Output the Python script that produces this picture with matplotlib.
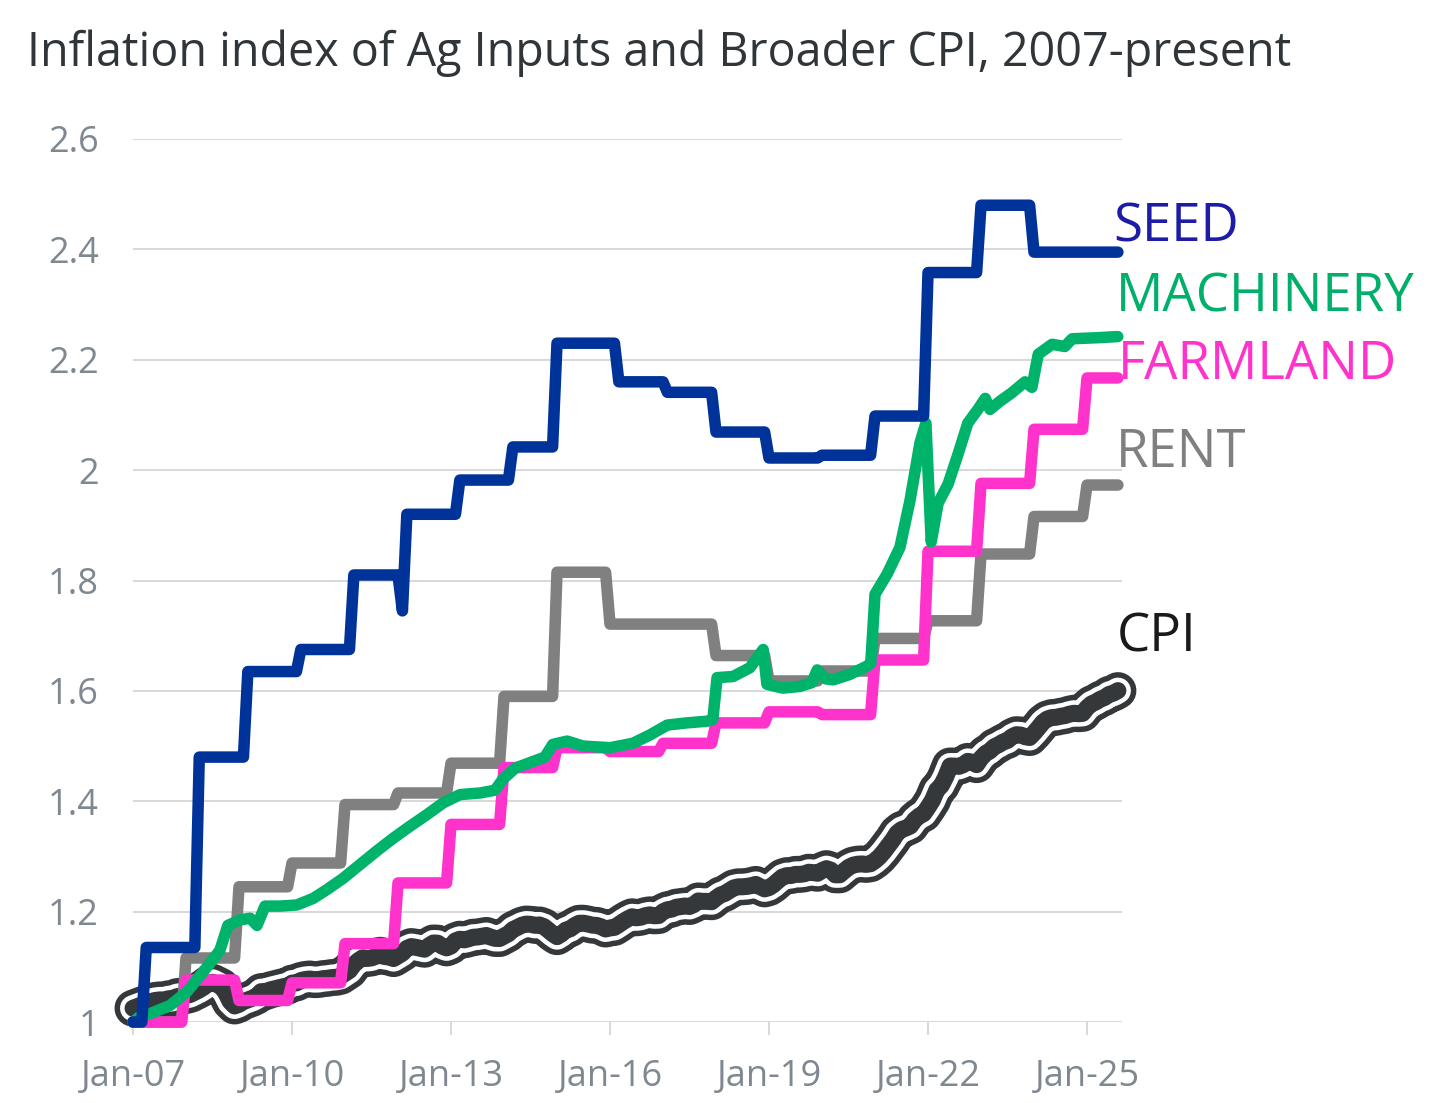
import numpy as np
import matplotlib
matplotlib.use("Agg")
import matplotlib.pyplot as plt

plt.rcParams['font.family'] = ['Open Sans', 'DejaVu Sans']

# ---------------- data ----------------
title = "Inflation index of Ag Inputs and Broader CPI, 2007-present"
x_tick_years = [2007, 2010, 2013, 2016, 2019, 2022, 2025]
x_tick_labels = ["Jan-07", "Jan-10", "Jan-13", "Jan-16", "Jan-19", "Jan-22", "Jan-25"]
y_ticks = [1.0, 1.2, 1.4, 1.6, 1.8, 2.0, 2.2, 2.4, 2.6]
end_year = 2025.583

# step series: year in which each new level starts, and the level
seed_t = [2007.0, 2007.25, 2008.25, 2009.167, 2010.167, 2011.167, 2012.083, 2012.167,
          2013.167, 2014.167, 2015.0, 2016.167, 2017.083, 2018.0, 2019.0, 2020.0,
          2021.0, 2022.0, 2023.0, 2024.0]
seed_v = [1.0, 1.135, 1.48, 1.635, 1.675, 1.81, 1.745, 1.92,
          1.982, 2.042, 2.23, 2.16, 2.141, 2.069, 2.022, 2.027,
          2.098, 2.358, 2.48, 2.395]

rent_t = [2007.0, 2008.0, 2009.0, 2010.0, 2011.0, 2012.0, 2013.0, 2014.0, 2015.0,
          2016.0, 2018.0, 2019.0, 2020.0, 2021.0, 2022.0, 2023.0, 2024.0, 2025.0]
rent_v = [1.0, 1.116, 1.245, 1.288, 1.394, 1.415, 1.469, 1.59, 1.815,
          1.721, 1.664, 1.618, 1.636, 1.695, 1.727, 1.848, 1.916, 1.973]

farm_t = [2007.0, 2008.0, 2009.0, 2010.0, 2011.0, 2012.0, 2013.0, 2014.0, 2015.0,
          2016.0, 2017.0, 2018.0, 2019.0, 2020.0, 2021.0, 2022.0, 2023.0, 2024.0, 2025.0]
farm_v = [1.0, 1.076, 1.039, 1.071, 1.142, 1.252, 1.358, 1.461, 1.497,
          1.49, 1.505, 1.542, 1.562, 1.557, 1.656, 1.853, 1.976, 2.074, 2.167]

mach_t = [2007.0, 2007.13, 2007.32, 2007.70, 2008.02, 2008.40, 2008.64, 2008.79, 2009.02,
          2009.21, 2009.34, 2009.49, 2009.77, 2010.09, 2010.40, 2010.66, 2010.96, 2011.28,
          2011.60, 2011.91, 2012.23, 2012.55, 2012.85, 2013.17, 2013.55, 2013.83, 2013.98,
          2014.21, 2014.49, 2014.77, 2014.92, 2015.19, 2015.49, 2016.00, 2016.43, 2016.75,
          2017.08, 2017.45, 2017.83, 2017.94, 2018.02, 2018.32, 2018.64, 2018.89, 2018.96,
          2019.26, 2019.58, 2019.81, 2019.91, 2020.06, 2020.21, 2020.53, 2020.85, 2020.92,
          2021.00, 2021.23, 2021.47, 2021.66, 2021.85, 2021.96, 2022.06, 2022.19, 2022.38,
          2022.57, 2022.75, 2022.94, 2023.08, 2023.17, 2023.36, 2023.58, 2023.83, 2023.96,
          2024.08, 2024.34, 2024.58, 2024.72, 2025.21, 2025.58]
mach_v = [1.0, 1.01, 1.015, 1.03, 1.055, 1.10, 1.13, 1.175, 1.185,
          1.188, 1.175, 1.21, 1.21, 1.212, 1.224, 1.24, 1.26, 1.285,
          1.31, 1.333, 1.355, 1.376, 1.397, 1.412, 1.415, 1.42, 1.44,
          1.46, 1.47, 1.48, 1.503, 1.509, 1.50, 1.497, 1.505, 1.52,
          1.538, 1.542, 1.545, 1.548, 1.624, 1.626, 1.642, 1.675, 1.612,
          1.605, 1.608, 1.615, 1.638, 1.622, 1.62, 1.63, 1.645, 1.65,
          1.775, 1.812, 1.86, 1.945, 2.05, 2.085, 1.87, 1.94, 1.975,
          2.03, 2.085, 2.11, 2.13, 2.11, 2.125, 2.14, 2.16, 2.15,
          2.21, 2.228, 2.224, 2.238, 2.24, 2.242]

# CPI, monthly from Jan 2007 (index, Jan 2007 = 1)
cpi_start = 2007.0
cpi_v = [
    1.025, 1.028, 1.031, 1.034, 1.037, 1.039, 1.040, 1.040, 1.042, 1.043, 1.046, 1.047,
    1.048, 1.050, 1.054, 1.058, 1.063, 1.069, 1.072, 1.068, 1.064, 1.053, 1.037, 1.029,
    1.032, 1.037, 1.040, 1.043, 1.047, 1.055, 1.055, 1.058, 1.060, 1.062, 1.064, 1.065,
    1.0705, 1.0708, 1.0752, 1.0770, 1.0779, 1.0768, 1.0770, 1.0785, 1.0792, 1.0805, 1.0810, 1.0828,
    1.0880, 1.0933, 1.1040, 1.1111, 1.1163, 1.1151, 1.1161, 1.1192, 1.1209, 1.1186, 1.1176, 1.1149,
    1.1198, 1.1247, 1.1333, 1.1367, 1.1354, 1.1337, 1.1318, 1.1381, 1.1432, 1.1428, 1.1374, 1.1343,
    1.1377, 1.1470, 1.1500, 1.1488, 1.1508, 1.1536, 1.1540, 1.1554, 1.1568, 1.1538, 1.1514, 1.1513,
    1.1556, 1.1599, 1.1674, 1.1712, 1.1753, 1.1775, 1.1770, 1.1751, 1.1759, 1.1730, 1.1667, 1.1600,
    1.1546, 1.1596, 1.1665, 1.1689, 1.1748, 1.1789, 1.1790, 1.1774, 1.1755, 1.1750, 1.1725, 1.1685,
    1.1704, 1.1714, 1.1765, 1.1820, 1.1868, 1.1907, 1.1888, 1.1899, 1.1927, 1.1942, 1.1924, 1.1928,
    1.1997, 1.2035, 1.2045, 1.2080, 1.2091, 1.2102, 1.2093, 1.2129, 1.2194, 1.2186, 1.2186, 1.2179,
    1.2245, 1.2301, 1.2329, 1.2378, 1.2429, 1.2449, 1.2450, 1.2457, 1.2471, 1.2493, 1.2451, 1.2412,
    1.2435, 1.2488, 1.2558, 1.2625, 1.2652, 1.2654, 1.2675, 1.2675, 1.2685, 1.2714, 1.2707, 1.2695,
    1.2745, 1.2779, 1.2752, 1.2667, 1.2667, 1.2736, 1.2801, 1.2841, 1.2859, 1.2864, 1.2856, 1.2868,
    1.2923, 1.2994, 1.3086, 1.3193, 1.3299, 1.3423, 1.3487, 1.3515, 1.3552, 1.3664, 1.3732, 1.3774,
    1.3890, 1.4017, 1.4204, 1.4283, 1.4440, 1.4639, 1.4637, 1.4632, 1.4663, 1.4723, 1.4708, 1.4663,
    1.4780, 1.4863, 1.4912, 1.4987, 1.5025, 1.5073, 1.5102, 1.5168, 1.5206, 1.5200, 1.5169, 1.5154,
    1.5237, 1.5331, 1.5430, 1.5490, 1.5516, 1.5521, 1.5539, 1.5552, 1.5577, 1.5595, 1.5586, 1.5592,
    1.5694, 1.5764, 1.5799, 1.5848, 1.5881, 1.5936, 1.5960, 1.6005,
]

labels = ["SEED", "MACHINERY", "FARMLAND", "RENT", "CPI"]

# ---------------- helpers ----------------
def step_series(ts, vs, end, ramp=1/12):
    xs, ys = [ts[0]], [vs[0]]
    for t, v in zip(ts[1:], vs[1:]):
        xs += [t - ramp, t]
        ys += [ys[-1], v]
    xs.append(end)
    ys.append(ys[-1])
    return np.array(xs), np.array(ys)

PX = 72 / 100.0  # points per pixel at dpi 100

fig = plt.figure(figsize=(14.4, 11.03), dpi=100)
W, H = 1440, 1103
ax_l, ax_r, ax_b, ax_t = 133, 1122, 1022, 139
ax = fig.add_axes([ax_l / W, 1 - ax_b / H, (ax_r - ax_l) / W, (ax_b - ax_t) / H])
ax.set_xlim(2007.0, 2025.66)
ax.set_ylim(1.0, 2.6)

for s in ax.spines.values():
    s.set_visible(False)

ax.set_yticks(y_ticks)
ax.set_yticklabels([f"{v:g}" for v in y_ticks])
ax.yaxis.grid(True, color="#d9d9d9", lw=2 * PX)
ax.set_axisbelow(True)
ax.set_xticks(x_tick_years)
ax.set_xticklabels(x_tick_labels)
ax.tick_params(axis="x", direction="out", length=13 * PX, width=2 * PX, color="#d9d9d9",
               labelsize=26, labelcolor="#7f8891", pad=17)
ax.tick_params(axis="y", length=0, labelsize=26, labelcolor="#7f8891", pad=34 * PX)

# CPI: dark line with white inner casing
cx = cpi_start + np.arange(len(cpi_v)) / 12.0
cy = np.array(cpi_v)
kw = dict(clip_on=False, solid_joinstyle="round", solid_capstyle="round")
ax.plot(cx, cy, color="#34383a", lw=37 * PX, zorder=3, **kw)
ax.plot(cx, cy, color="white", lw=26 * PX, zorder=3.1, **kw)
ax.plot(cx, cy, color="#34383a", lw=17 * PX, zorder=3.2, **kw)

lw = 11.5 * PX
rx, ry = step_series(rent_t, rent_v, end_year)
ax.plot(rx, ry, color="#808080", lw=lw, zorder=4, **kw)
fx, fy = step_series(farm_t, farm_v, end_year)
ax.plot(fx, fy, color="#ff33cc", lw=lw, zorder=5, **kw)
ax.plot(mach_t, mach_v, color="#00b36b", lw=lw, zorder=6, **kw)
sx, sy = step_series(seed_t, seed_v, end_year)
ax.plot(sx, sy, color="#003399", lw=lw, zorder=7, **kw)

# end labels (pixel positions: left x, baseline y)
lab_pos = [(1113, 241), (1116, 311), (1118, 379), (1116, 467), (1117, 651)]
lab_col = ["#1c1ca6", "#00b06a", "#ff33cc", "#808080", "#1a1a1a"]
for text, (px, py), col in zip(labels, lab_pos, lab_col):
    fig.text(px / W, 1 - py / H, text, color=col, fontsize=38, ha="left", va="baseline")

fig.text(27 / W, 1 - 66 / H, title, color="#30353a", fontsize=33.6, ha="left", va="baseline")

fig.savefig("out.png", dpi=100, facecolor="white")
